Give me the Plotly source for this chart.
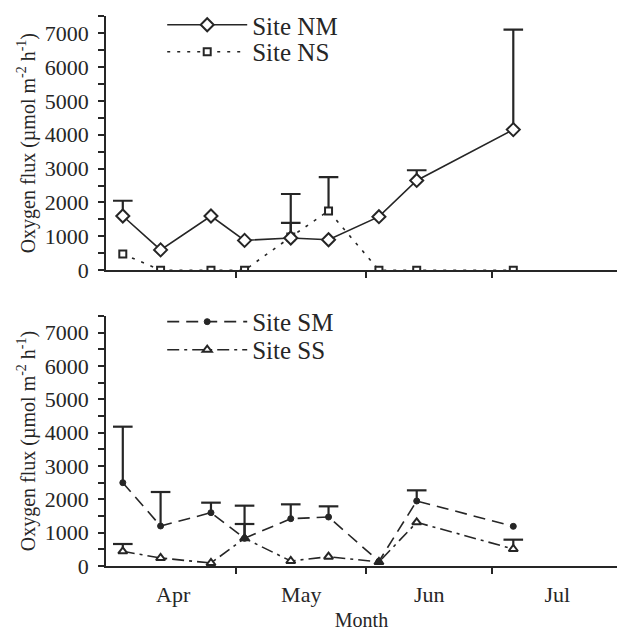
import plotly.graph_objects as go

# sampling days (days since 1 April)
days = [3, 12, 24, 32, 43, 52, 64, 73, 96]

nm = [1600, 600, 1600, 880, 950, 900, 1580, 2650, 4150]
nm_err = [450, 0, 0, 0, 450, 0, 0, 300, 2950]
ns = [480, 0, 0, 0, 980, 1750, 0, 0, 0]
ns_err = [0, 0, 0, 0, 1270, 1000, 0, 0, 0]

sm = [2500, 1200, 1600, 830, 1420, 1470, 140, 1950, 1190]
sm_err = [1680, 1020, 300, 430, 430, 320, 0, 320, 0]
ss = [440, 240, 90, 830, 150, 280, 120, 1310, 510]
ss_err = [220, 0, 0, 980, 0, 0, 0, 0, 280]

month_pos = [15, 45.5, 76, 106.5]
month_labels = ["Apr", "May", "Jun", "Jul"]
month_bounds = [30, 61, 91]
y_ticks = [0, 1000, 2000, 3000, 4000, 5000, 6000, 7000]

INK = "#262626"
FONT = "Liberation Serif"

fig = go.Figure()


def add_err(xv, yv, ev, xa, ya):
    ex, ey, cx, cy = [], [], [], []
    for x, y, e in zip(xv, yv, ev):
        if e > 0:
            ex += [x, x, None]
            ey += [y, y + e, None]
            cx.append(x)
            cy.append(y + e)
    fig.add_trace(go.Scatter(x=ex, y=ey, mode="lines", xaxis=xa, yaxis=ya,
                             line=dict(color=INK, width=2.2), showlegend=False,
                             hoverinfo="skip"))
    fig.add_trace(go.Scatter(x=cx, y=cy, mode="markers", xaxis=xa, yaxis=ya,
                             marker=dict(symbol="line-ew", size=14,
                                         line=dict(color=INK, width=2.2)),
                             showlegend=False, hoverinfo="skip"))


add_err(days, nm, nm_err, "x", "y")
add_err(days, ns, ns_err, "x", "y")
add_err(days, sm, sm_err, "x2", "y2")
add_err(days, ss, ss_err, "x2", "y2")

fig.add_trace(go.Scatter(x=days, y=ns, name="Site NS", mode="lines+markers",
                         xaxis="x", yaxis="y", legend="legend2",
                         line=dict(color=INK, width=1.6, dash="3px,7px"),
                         marker=dict(symbol="square", size=7, color="white",
                                     line=dict(color=INK, width=2))))
fig.add_trace(go.Scatter(x=days, y=nm, name="Site NM", mode="lines+markers",
                         xaxis="x", yaxis="y", legend="legend",
                         line=dict(color=INK, width=1.6),
                         marker=dict(symbol="diamond", size=10, color="white",
                                     line=dict(color=INK, width=2))))
fig.add_trace(go.Scatter(x=days, y=ss, name="Site SS", mode="lines+markers",
                         xaxis="x2", yaxis="y2", legend="legend4",
                         line=dict(color=INK, width=1.6, dash="12px,5px,3px,5px"),
                         marker=dict(symbol="triangle-up", size=8, color="white",
                                     line=dict(color=INK, width=2))))
fig.add_trace(go.Scatter(x=days, y=sm, name="Site SM", mode="lines+markers",
                         xaxis="x2", yaxis="y2", legend="legend3",
                         line=dict(color=INK, width=1.6, dash="12px,7px"),
                         marker=dict(symbol="circle", size=6, color=INK,
                                     line=dict(color=INK, width=1))))

ytitle = "Oxygen flux (µmol m<sup>-2</sup> h<sup>-1</sup>)"

yax = dict(range=[0, 7500], tickvals=y_ticks, ticks="outside", ticklen=6,
           tickwidth=1.5, tickcolor=INK, showline=True, linecolor=INK,
           linewidth=1.5, showgrid=False, zeroline=False, ticklabelstandoff=5,
           tickfont=dict(family=FONT, size=22, color=INK),
           minor=dict(dtick=500, tick0=0, ticks="outside", ticklen=6,
                      tickwidth=1.5, tickcolor=INK, showgrid=False),
           title=dict(text=ytitle, font=dict(family=FONT, size=20, color=INK),
                      standoff=4))

xax = dict(range=[-1, 120.7], tickvals=month_pos, ticktext=month_labels,
           ticks="outside", ticklen=0, showline=True, linecolor=INK,
           linewidth=1.5, showgrid=False, zeroline=False,
           tickfont=dict(family=FONT, size=22, color=INK),
           minor=dict(tickmode="array", tickvals=month_bounds, ticks="outside",
                      ticklen=6, tickwidth=1.5, tickcolor=INK, showgrid=False))


def leg(ypos):
    return dict(x=0.11, y=ypos, xanchor="left", yanchor="middle",
                font=dict(family=FONT, size=25, color=INK),
                bgcolor="rgba(0,0,0,0)", itemwidth=80)


fig.update_layout(
    width=617, height=631,
    margin=dict(l=106, r=0, t=10, b=65),
    paper_bgcolor="white", plot_bgcolor="white",
    font=dict(family=FONT, color=INK),
    xaxis=dict(xax, domain=[0, 1], anchor="y", showticklabels=False),
    yaxis=dict(yax, domain=[0.532, 0.989], anchor="x"),
    xaxis2=dict(xax, domain=[0, 1], anchor="y2", ticklabelstandoff=8,
                title=dict(text="Month", font=dict(family=FONT, size=20, color=INK),
                           standoff=10)),
    yaxis2=dict(yax, domain=[0, 0.4496], anchor="x2"),
    legend=leg(0.973),
    legend2=leg(0.9245),
    legend3=leg(0.439),
    legend4=leg(0.3885),
    showlegend=True,
)

fig.write_html("out.html")
